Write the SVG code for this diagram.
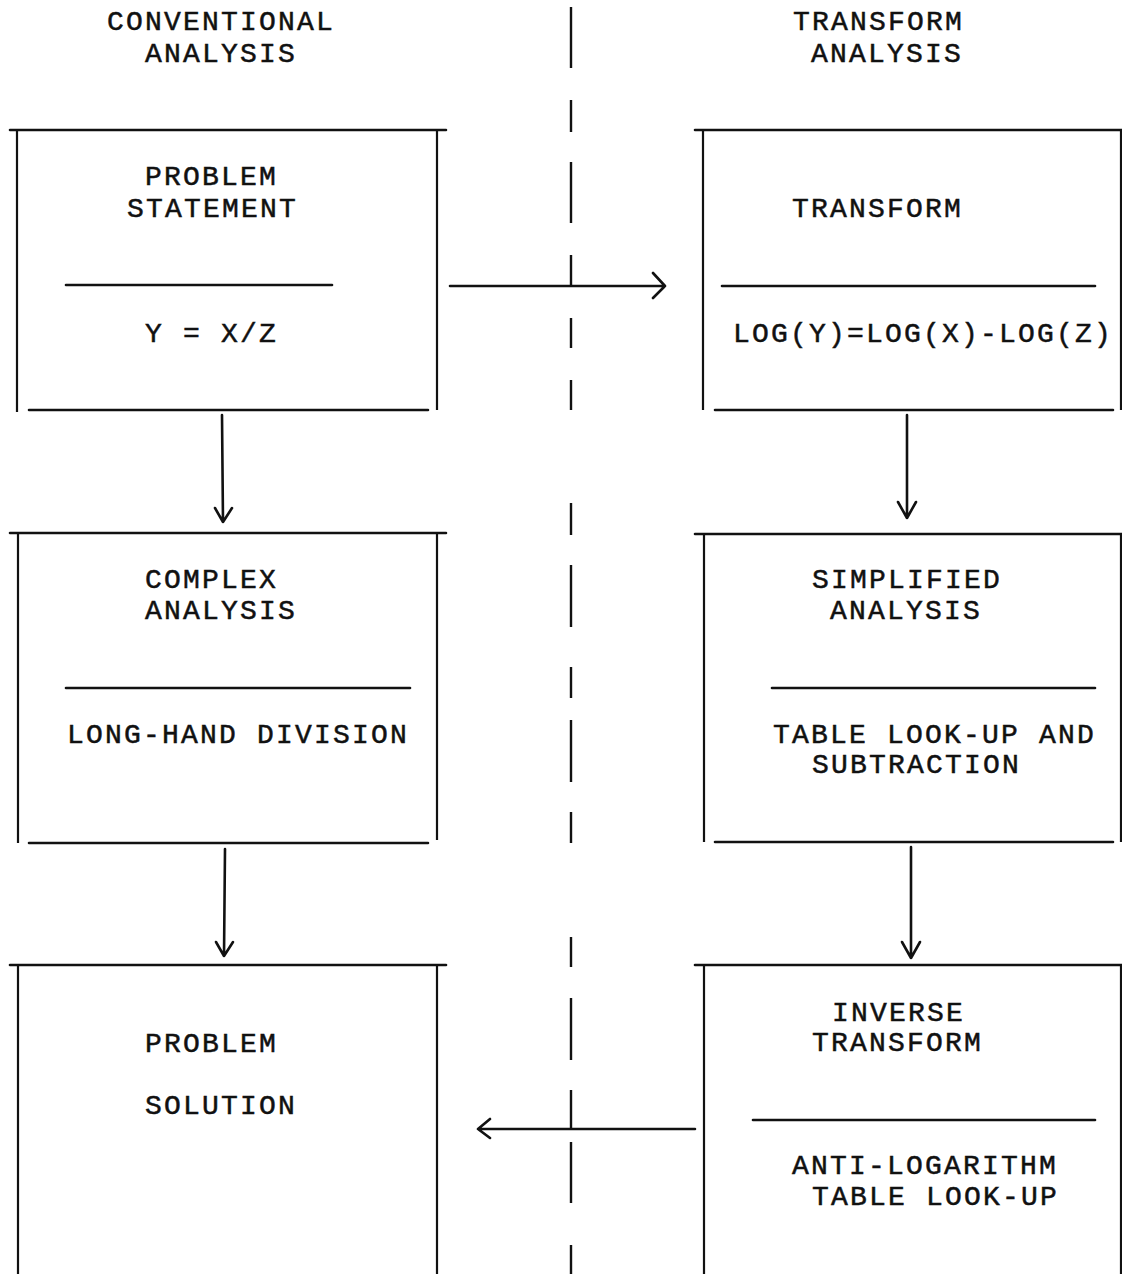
<svg xmlns="http://www.w3.org/2000/svg" width="1122" height="1274" viewBox="0 0 1122 1274">
<style>
.ln{stroke:#111;stroke-width:2.6;fill:none;stroke-linecap:round}
.vl{stroke:#111;stroke-width:2.2;fill:none}
.dl{stroke:#111;stroke-width:2.4;fill:none}
.ar{stroke:#111;stroke-width:2.6;fill:none;stroke-linecap:round;stroke-linejoin:round}
.t{font-family:"Liberation Mono","DejaVu Sans Mono",monospace;font-size:28px;letter-spacing:2.2px;fill:#111;stroke:#111;stroke-width:0.5}
</style>
<rect width="1122" height="1274" fill="#fff"/>
<g id="headers">
<text class="t" x="107" y="30">CONVENTIONAL</text>
<text class="t" x="145" y="62">ANALYSIS</text>
<text class="t" x="793" y="30">TRANSFORM</text>
<text class="t" x="811" y="62">ANALYSIS</text>
</g>
<g id="divider">
<path class="dl" d="M571 7V68M571 100V132M571 162V223M571 255V286M571 318V348M571 380V410M571 503V535M571 565V627M571 667V698M571 720V782M571 812V843M571 937V967M571 998V1060M571 1090V1129M571 1142V1203M571 1245V1274"/>
</g>
<g id="problem-statement">
<path class="ln" d="M10 130H446M29 410H428"/>
<path class="vl" d="M17 130V412M437 130V410"/>
<path class="ln" d="M66 285H332"/>
<text class="t" x="145" y="185">PROBLEM</text>
<text class="t" x="127" y="217">STATEMENT</text>
<text class="t" x="145" y="342">Y = X/Z</text>
</g>
<g id="transform">
<path class="ln" d="M695 130H1122M715 410H1113"/>
<path class="vl" d="M703 130V410M1121 130V410"/>
<path class="ln" d="M722 286H1095"/>
<text class="t" x="792" y="217">TRANSFORM</text>
<text class="t" x="733" y="342">LOG(Y)=LOG(X)-LOG(Z)</text>
</g>
<g id="complex-analysis">
<path class="ln" d="M10 533H446M29 843H428"/>
<path class="vl" d="M18 533V843M437 533V840"/>
<path class="ln" d="M66 688H410"/>
<text class="t" x="145" y="588">COMPLEX</text>
<text class="t" x="145" y="619">ANALYSIS</text>
<text class="t" x="67" y="743">LONG-HAND DIVISION</text>
</g>
<g id="simplified-analysis">
<path class="ln" d="M695 534H1122M715 842H1113"/>
<path class="vl" d="M704 534V842M1121 534V842"/>
<path class="ln" d="M772 688H1095"/>
<text class="t" x="812" y="588">SIMPLIFIED</text>
<text class="t" x="830" y="619">ANALYSIS</text>
<text class="t" x="773" y="743">TABLE LOOK-UP AND</text>
<text class="t" x="812" y="773">SUBTRACTION</text>
</g>
<g id="problem-solution">
<path class="ln" d="M10 965H446"/>
<path class="vl" d="M18 965V1274M437 965V1274"/>
<text class="t" x="145" y="1052">PROBLEM</text>
<text class="t" x="145" y="1114">SOLUTION</text>
</g>
<g id="inverse-transform">
<path class="ln" d="M695 965H1122"/>
<path class="vl" d="M704 965V1274M1121 965V1274"/>
<path class="ln" d="M753 1120H1095"/>
<text class="t" x="832" y="1021">INVERSE</text>
<text class="t" x="812" y="1051">TRANSFORM</text>
<text class="t" x="792" y="1174">ANTI-LOGARITHM</text>
<text class="t" x="812" y="1205">TABLE LOOK-UP</text>
</g>
<g id="connectors">
<path class="ar" d="M450 286H665M653 273L665 286L653 298"/>
<path class="ar" d="M222 415L223 522M215 508L223 522L232 508"/>
<path class="ar" d="M907 415V518M898 502L907 518L916 502"/>
<path class="ar" d="M225 849L224 956M216 942L224 956L233 942"/>
<path class="ar" d="M911 847V958M902 942L911 958L920 942"/>
<path class="ar" d="M695 1129H478M490 1119L478 1129L490 1138"/>
</g>
</svg>
